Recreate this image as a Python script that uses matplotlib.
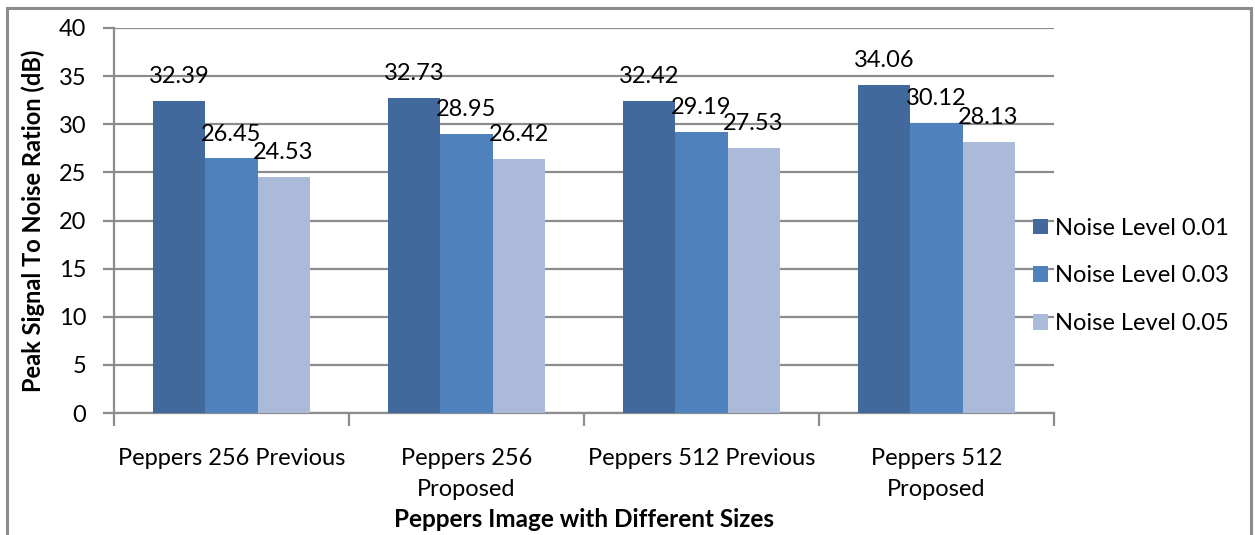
import numpy as np
import matplotlib.pyplot as plt
from matplotlib.patches import Rectangle

plt.rcParams['font.family'] = ['Lato', 'DejaVu Sans']

categories = ["Peppers 256 Previous", "Peppers 256\nProposed",
              "Peppers 512 Previous", "Peppers 512\nProposed"]
noise_001 = [32.39, 32.73, 32.42, 34.06]
noise_003 = [26.45, 28.95, 29.19, 30.12]
noise_005 = [24.53, 26.42, 27.53, 28.13]
series_names = ["Noise Level 0.01", "Noise Level 0.03", "Noise Level 0.05"]
colors = ["#41699B", "#4F81BD", "#AABAD8"]

grid_color = "#8C8C8C"

fig = plt.figure(figsize=(12.55, 5.35), dpi=100)
ax = fig.add_axes([0.0908, 0.228, 0.749, 0.7197])

# outer chart frame (bottom edge falls off the canvas)
fig.patches.append(Rectangle((0.0056, -0.05), 0.9912, 1.035, transform=fig.transFigure,
                             fill=False, edgecolor=grid_color, linewidth=2.2, zorder=0))

x = np.arange(len(categories))
width = 0.222
for i, (vals, name, col) in enumerate(zip([noise_001, noise_003, noise_005], series_names, colors)):
    pos = x + (i - 1) * width
    ax.bar(pos, vals, width, color=col, label=name, zorder=3)
    for px, v in zip(pos, vals):
        ax.annotate(f"{v:.2f}", (px, v), xytext=(0, 10), textcoords="offset points",
                    ha="center", va="bottom", fontsize=17, color="black", zorder=4)

ax.set_xlim(-0.5, len(categories) - 0.5)
ax.set_ylim(0, 40)
ax.set_yticks(np.arange(0, 41, 5))
ax.yaxis.grid(True, color=grid_color, linewidth=1.6, zorder=0)
ax.set_axisbelow(True)

ax.set_xticks(x)
ax.set_xticklabels(categories, fontsize=17, linespacing=1.6)
ax.set_xticks(np.arange(-0.5, len(categories)), minor=True)
ax.tick_params(axis="x", which="major", length=0, pad=25)
ax.tick_params(axis="x", which="minor", length=9, width=1.6, color=grid_color, direction="out")
ax.tick_params(axis="y", length=8, width=1.6, color=grid_color, labelsize=17, pad=12)

for side in ["top", "right"]:
    ax.spines[side].set_visible(False)
for side in ["left", "bottom"]:
    ax.spines[side].set_color(grid_color)
    ax.spines[side].set_linewidth(1.6)

ax.set_xlabel("Peppers Image with Different Sizes", fontsize=17.5, fontweight="bold", labelpad=6)
ax.set_ylabel("Peak Signal To Noise Ration (dB)", fontsize=17, fontweight="bold", labelpad=10)

ax.legend(loc="center left", bbox_to_anchor=(0.955, 0.356), frameon=False, fontsize=17,
          handlelength=0.64, handleheight=0.64, handletextpad=0.3, labelspacing=1.13)

fig.savefig("out.png", dpi=100)
